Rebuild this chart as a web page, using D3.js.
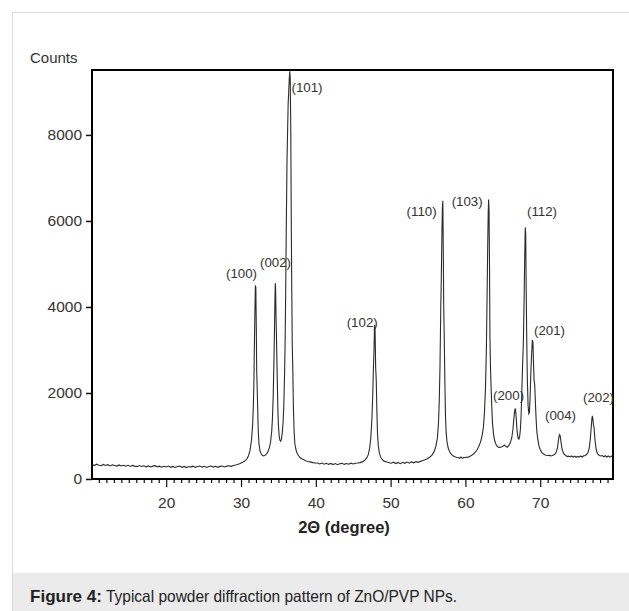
<!DOCTYPE html>
<html>
<head>
<meta charset="utf-8">
<script src="https://cdn.jsdelivr.net/npm/d3@7"></script>
<style>
  body { margin: 0; background: #fff; }
  svg { display: block; font-family: Arial, "Liberation Sans", sans-serif; }
</style>
</head>
<body>
<svg id="chart" width="629" height="611"></svg>
<script>
// XRD pattern (2theta in degrees, intensity in counts)
const twoTheta = [
  10.1, 10.4, 10.7, 11.0, 11.3, 11.6, 11.9, 12.2, 12.5, 12.8, 13.1, 13.4, 13.7, 14.0, 14.3, 14.6, 14.9,
  15.2, 15.5, 15.8, 16.1, 16.4, 16.7, 17.0, 17.3, 17.6, 17.9, 18.2, 18.5, 18.8, 19.1, 19.4, 19.7,
  20.0, 20.3, 20.6, 20.9, 21.2, 21.5, 21.8, 22.1, 22.4, 22.7, 23.0, 23.3, 23.6, 23.9, 24.2, 24.5,
  24.8, 25.1, 25.4, 25.7, 26.0, 26.3, 26.6, 26.9, 27.2, 27.5, 27.8, 28.1, 28.4, 28.7, 29.0, 29.3,
  29.6, 29.9, 30.2, 30.5, 30.8, 31.0, 31.2, 31.4, 31.55, 31.65, 31.72, 31.78, 31.85, 31.92, 31.98,
  32.04, 32.1, 32.16, 32.22, 32.3, 32.4, 32.55, 32.7, 32.85, 33.0, 33.15, 33.3, 33.45, 33.6, 33.8,
  33.95, 34.1, 34.2, 34.3, 34.4, 34.47, 34.53, 34.58, 34.63, 34.68, 34.74, 34.8, 34.86, 34.93, 35.0,
  35.1, 35.2, 35.3, 35.4, 35.5, 35.62, 35.72, 35.82, 35.9, 35.97, 36.05, 36.15, 36.3, 36.45, 36.52,
  36.58, 36.65, 36.72, 36.78, 36.85, 36.93, 37.0, 37.1, 37.2, 37.35, 37.5, 37.7, 37.9, 38.1, 38.4,
  38.7, 39.0, 39.3, 39.6, 39.9, 40.2, 40.5, 40.8, 41.1, 41.4, 41.7, 42.0, 42.3, 42.6, 42.9, 43.2,
  43.5, 43.8, 44.1, 44.4, 44.7, 45.0, 45.3, 45.6, 45.9, 46.2, 46.5, 46.8, 47.0, 47.2, 47.35, 47.5,
  47.6, 47.7, 47.78, 47.85, 47.92, 48.0, 48.08, 48.16, 48.25, 48.35, 48.5, 48.65, 48.8, 49.0, 49.2,
  49.5, 49.8, 50.1, 50.4, 50.7, 51.0, 51.3, 51.6, 51.9, 52.2, 52.5, 52.8, 53.1, 53.4, 53.7, 54.0,
  54.3, 54.6, 54.9, 55.2, 55.5, 55.8, 56.05, 56.25, 56.4, 56.5, 56.6, 56.7, 56.78, 56.85, 56.92,
  56.98, 57.04, 57.1, 57.17, 57.25, 57.33, 57.42, 57.55, 57.7, 57.85, 58.0, 58.2, 58.4, 58.6, 58.8,
  59.0, 59.2, 59.4, 59.6, 59.8, 60.0, 60.2, 60.4, 60.6, 60.8, 61.0, 61.2, 61.4, 61.6, 61.8, 62.0,
  62.2, 62.4, 62.55, 62.68, 62.8, 62.9, 62.98, 63.05, 63.1, 63.16, 63.22, 63.28, 63.35, 63.42, 63.52,
  63.62, 63.75, 63.9, 64.05, 64.2, 64.4, 64.6, 64.8, 65.0, 65.2, 65.4, 65.6, 65.8, 66.0, 66.2, 66.35,
  66.5, 66.6, 66.68, 66.76, 66.85, 66.95, 67.05, 67.15, 67.25, 67.35, 67.45, 67.55, 67.65, 67.75,
  67.85, 67.93, 68.0, 68.06, 68.12, 68.2, 68.28, 68.38, 68.48, 68.56, 68.65, 68.75, 68.85, 68.95,
  69.03, 69.1, 69.18, 69.26, 69.35, 69.45, 69.55, 69.7, 69.85, 70.0, 70.2, 70.4, 70.6, 70.8, 71.0,
  71.2, 71.4, 71.6, 71.8, 72.0, 72.15, 72.3, 72.42, 72.52, 72.6, 72.68, 72.78, 72.9, 73.05, 73.2,
  73.4, 73.6, 73.8, 74.0, 74.2, 74.4, 74.6, 74.8, 75.0, 75.2, 75.4, 75.6, 75.8, 76.0, 76.2, 76.4,
  76.55, 76.68, 76.8, 76.9, 76.97, 77.04, 77.12, 77.2, 77.3, 77.42, 77.55, 77.7, 77.9, 78.1, 78.3,
  78.5, 78.7, 78.9, 79.1, 79.3, 79.5, 79.72
];
const counts = [
  335, 312, 344, 320, 308, 338, 316, 333, 305, 329, 314, 300, 327, 303, 320, 296, 318,
  293, 315, 300, 287, 312, 291, 306, 282, 304, 279, 299, 310, 283, 298, 274, 296,
  280, 301, 272, 293, 270, 291, 300, 272, 292, 266, 290, 276, 297, 270, 289, 301,
  276, 295, 270, 291, 302, 277, 296, 272, 293, 303, 281, 299, 308, 295, 315, 326,
  341, 362, 388, 418, 470, 540, 660, 900, 1250, 1700, 2200, 3000, 3800, 4500, 4450,
  3600, 2500, 2150, 1700, 1150, 820, 650, 580, 550, 535, 545, 560, 590, 640, 730,
  860, 1100, 1400, 1900, 2700, 3400, 4100, 4550, 4400, 3800, 3300, 2750, 2200, 1600, 1250,
  1000, 900, 880, 920, 1050, 1300, 1700, 2400, 3200, 4300, 5800, 7400, 8700, 9300, 9480,
  9300, 8200, 6000, 4500, 3150, 2500, 1700, 1100, 820, 680, 600, 540, 500, 470, 445,
  420, 405, 392, 380, 372, 372, 350, 371, 344, 366, 340, 362, 336, 358, 333, 356,
  364, 340, 361, 344, 368, 350, 366, 372, 381, 398, 430, 490, 560, 720, 950, 1400,
  1900, 2550, 3000, 3580, 3500, 2600, 2300, 1600, 1050, 780, 600, 520, 470, 430, 410,
  395, 380, 366, 390, 360, 384, 356, 388, 364, 393, 368, 398, 376, 404, 388, 410,
  428, 445, 470, 505, 550, 630, 760, 950, 1300, 1800, 2600, 3900, 4700, 5600, 6300,
  6470, 5400, 4000, 3300, 2300, 1500, 1100, 850, 720, 650, 600, 560, 535, 515, 505,
  498, 478, 510, 480, 504, 496, 512, 506, 530, 548, 570, 600, 640, 690, 760, 850,
  980, 1200, 1550, 2100, 3000, 4300, 5400, 6200, 6500, 6250, 5000, 3300, 2600, 2200, 1700,
  1300, 1050, 900, 820, 770, 740, 735, 745, 760, 790, 760, 740, 780, 840, 960, 1150,
  1450, 1600, 1640, 1500, 1250, 1050, 950, 930, 990, 1150, 1500, 2100, 2680, 3200,
  4200, 5200, 5850, 5700, 4500, 3200, 2300, 1700, 1520, 1550, 1900, 2500, 2900, 3230,
  3180, 2700, 2300, 2200, 1800, 1400, 1100, 900, 760, 680, 620, 585, 565, 552, 545,
  550, 538, 545, 560, 585, 630, 720, 880, 1000, 1030, 990, 860, 720, 620, 575,
  548, 522, 531, 514, 535, 509, 530, 506, 526, 510, 536, 512, 538, 545, 570, 620,
  720, 900, 1150, 1380, 1470, 1400, 1250, 1200, 950, 760, 640, 580, 548, 535, 546,
  518, 540, 512, 536, 508, 531, 515
];

// Miller index labels and where they sit (left edge / baseline in data units)
const peakNames = ['(100)', '(002)', '(101)', '(102)', '(110)', '(103)', '(200)', '(112)', '(201)', '(004)', '(202)'];
const peakLabelTheta = [27.99, 32.54, 36.75, 44.13, 52.14, 58.16, 63.69, 68.23, 69.17, 70.64, 75.72];
const peakLabelCounts = [4674, 4929, 8999, 3534, 6115, 6348, 1837, 6115, 3348, 1372, 1790];

const yTicks = [0, 2000, 4000, 6000, 8000];
const xTicks = [20, 30, 40, 50, 60, 70];
const xMinorTicks = d3.range(11, 80).filter(d => d % 10 !== 0);

const captionBold = 'Figure 4:';
const captionText = 'Typical powder diffraction pattern of ZnO/PVP NPs.';

let svg = d3.select('#chart');

// page frame + caption strip
svg.append('rect')
  .attr('x', 12.5).attr('y', 12.5)
  .attr('width', 640).attr('height', 640)
  .attr('fill', 'none')
  .attr('stroke', '#dcdcdc');

svg.append('rect')
  .attr('x', 13).attr('y', 573)
  .attr('width', 616).attr('height', 38)
  .attr('fill', '#ebebeb');

svg.append('text')
  .attr('x', 30).attr('y', 602)
  .attr('textLength', 72).attr('lengthAdjust', 'spacingAndGlyphs')
  .style('font-size', '16.5px')
  .style('font-weight', 'bold')
  .attr('fill', '#222')
  .text(captionBold);

svg.append('text')
  .attr('x', 106).attr('y', 602)
  .attr('textLength', 351).attr('lengthAdjust', 'spacingAndGlyphs')
  .style('font-size', '16.5px')
  .attr('fill', '#222')
  .text(captionText);

let margin = {left: 92, right: 613, top: 70, bottom: 479};

let x = d3.scaleLinear()
  .domain([10.08, 79.73])
  .range([margin.left, margin.right]);

let y = d3.scaleLinear()
  .domain([0, 9510])
  .range([margin.bottom, margin.top]);

// minor ticks first so major ones draw over them
svg.append('g')
  .attr('transform', `translate(0,${margin.bottom})`)
  .call(d3.axisBottom(x).tickValues(xMinorTicks).tickSize(4).tickFormat(''))
  .call(g => g.select('.domain').remove())
  .call(g => g.selectAll('line').attr('stroke', '#111').attr('stroke-width', 1.2));

svg.append('g')
  .attr('transform', `translate(0,${margin.bottom})`)
  .call(d3.axisBottom(x).tickValues(xTicks).tickSize(8).tickPadding(10))
  .call(g => g.select('.domain').remove())
  .call(g => g.selectAll('line').attr('stroke', '#111').attr('stroke-width', 1.2))
  .call(g => g.selectAll('text').attr('fill', '#333').style('font-size', '15.5px'));

svg.append('g')
  .attr('transform', `translate(${margin.left},0)`)
  .call(d3.axisLeft(y).tickValues(yTicks).tickSize(6).tickPadding(4).tickFormat(d3.format('d')))
  .call(g => g.select('.domain').remove())
  .call(g => g.selectAll('line').attr('stroke', '#111').attr('stroke-width', 1.5))
  .call(g => g.selectAll('text').attr('fill', '#333').style('font-size', '15.5px'));

// pattern
let line = d3.line()
  .x((d, i) => x(twoTheta[i]))
  .y(d => y(d));

svg.append('path')
  .datum(counts)
  .attr('d', line)
  .attr('fill', 'none')
  .attr('stroke', '#2b2b2b')
  .attr('stroke-width', 1.1);

// plot box
svg.append('rect')
  .attr('x', margin.left).attr('y', margin.top)
  .attr('width', margin.right - margin.left)
  .attr('height', margin.bottom - margin.top)
  .attr('fill', 'none')
  .attr('stroke', '#000')
  .attr('stroke-width', 2);

svg.selectAll('.peak-label')
  .data(peakNames)
  .join('text')
  .attr('class', 'peak-label')
  .attr('x', (d, i) => x(peakLabelTheta[i]))
  .attr('y', (d, i) => y(peakLabelCounts[i]))
  .style('font-size', '13.3px')
  .attr('fill', '#333')
  .text(d => d);

svg.append('text')
  .attr('x', 30).attr('y', 63)
  .style('font-size', '15px')
  .attr('fill', '#333')
  .text('Counts');

svg.append('text')
  .attr('x', 344).attr('y', 533)
  .attr('text-anchor', 'middle')
  .style('font-size', '16.5px')
  .style('font-weight', 'bold')
  .attr('fill', '#222')
  .text('2\u0398 (degree)');
</script>
</body>
</html>
